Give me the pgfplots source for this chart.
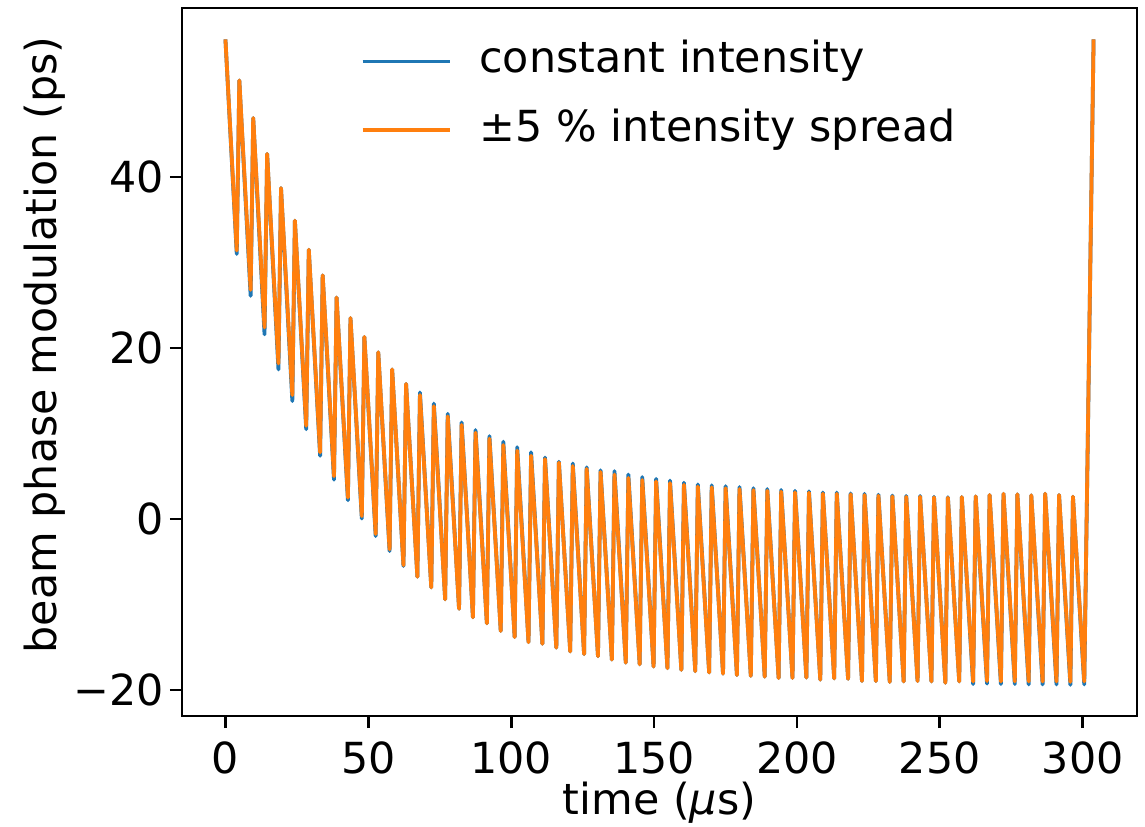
\documentclass[border=0pt]{standalone}
\usepackage{fontspec}
\setmainfont{DejaVu Sans}
\usepackage{pgfplots}
\pgfplotsset{compat=1.18}
\definecolor{mplblue}{HTML}{1F77B4}
\definecolor{mplorange}{HTML}{FF7F0E}
\begin{document}
\begin{tikzpicture}
\begin{axis}[
  at={(0,0)}, anchor=south west,
  scale only axis, width=238.75pt, height=177pt,
  xmin=-15.2, xmax=319.0, ymin=-23.04, ymax=59.77,
  axis line style={line width=0.7pt},
  tick style={line width=0.7pt, black},
  tick align=outside, major tick length=3pt,
  xtick pos=left, ytick pos=left,
  xtick={0,50,100,150,200,250,300},
  xticklabels={0,50,100,150,200,250,300},
  ytick={-20,0,20,40},
  yticklabels={−20,0,20,40},
  yticklabel style={xshift=2pt},
  tick label style={font=\fontsize{10.7}{12.5}\selectfont},
  label style={font=\fontsize{10.7}{12.5}\selectfont},
  xlabel={time ({\itshape μ}s)},
  ylabel={beam phase modulation (ps)},
  xlabel style={at={(axis description cs:0.5,0)}, anchor=center, yshift=-21.75pt},
  ylabel style={at={(axis description cs:-0.1435,0.524)}, anchor=center},
  legend image code/.code={\draw[#1, line width=0.9pt] (0pt,0pt) -- (21.75pt,0pt);},
  legend cell align=left,
  legend style={draw=none, fill=none, at={(axis description cs:0.1864,0.955)}, anchor=north west,
    font=\fontsize{10.7}{12.5}\selectfont, inner sep=0pt, row sep=6.6pt,
    nodes={inner xsep=0pt, inner ysep=0pt, text height=8pt, text depth=2.5pt},
    /tikz/every odd column/.append style={column sep=7pt}},
]
\addplot[mplblue, line width=0.95pt, line join=round] coordinates {
(0,56.1) (3.96,31.0)
(4.86,51.3) (8.82,26.1)
(9.72,46.9) (13.68,21.6)
(14.59,42.7) (18.55,17.5)
(19.45,38.7) (23.41,13.8)
(24.31,34.9) (28.27,10.5)
(29.17,31.5) (33.13,7.4)
(34.03,28.5) (37.99,4.6)
(38.90,25.9) (42.86,2.2)
(43.76,23.5) (47.72,0.05)
(48.62,21.3) (52.58,-2.0)
(53.48,19.5) (57.44,-3.75)
(58.34,17.5) (62.30,-5.5)
(63.21,15.8) (67.17,-6.75)
(68.07,14.8) (72.03,-8.0)
(72.93,13.5) (76.89,-9.4)
(77.79,12.3) (81.75,-10.5)
(82.65,11.3) (86.61,-11.5)
(87.52,10.4) (91.48,-12.2)
(92.38,9.7) (96.34,-13.1)
(97.24,9.05) (101.20,-13.8)
(102.10,8.4) (106.06,-14.4)
(106.96,7.8) (110.92,-14.6)
(111.83,7.2) (115.79,-15.05)
(116.69,6.7) (120.65,-15.5)
(121.55,6.5) (125.51,-15.8)
(126.41,6.05) (130.37,-16.05)
(131.27,5.7) (135.23,-16.45)
(136.14,5.6) (140.10,-16.8)
(141.00,5.2) (144.96,-17.0)
(145.86,4.9) (149.82,-17.25)
(150.72,4.7) (154.68,-17.45)
(155.58,4.5) (159.54,-17.65)
(160.45,4.25) (164.41,-17.8)
(165.31,4.05) (169.27,-17.95)
(170.17,3.95) (174.13,-18.1)
(175.03,3.85) (178.99,-18.25)
(179.89,3.75) (183.85,-18.35)
(184.76,3.6) (188.72,-18.45)
(189.62,3.5) (193.58,-18.6)
(194.48,3.4) (198.44,-18.6)
(199.34,3.3) (203.30,-18.55)
(204.20,3.25) (208.16,-18.8)
(209.07,3.1) (213.03,-18.65)
(213.93,3.1) (217.89,-18.7)
(218.79,3.0) (222.75,-18.95)
(223.65,2.95) (227.61,-18.95)
(228.51,2.85) (232.47,-19.05)
(233.38,2.75) (237.34,-19.0)
(238.24,2.7) (242.20,-18.95)
(243.10,2.7) (247.06,-19.0)
(247.96,2.6) (251.92,-19.15)
(252.82,2.55) (256.78,-19.0)
(257.69,2.57) (261.65,-19.3)
(262.55,2.65) (266.51,-19.25)
(267.41,2.81) (271.37,-19.3)
(272.27,2.96) (276.23,-19.3)
(277.13,2.89) (281.09,-19.35)
(282.00,2.77) (285.96,-19.35)
(286.86,2.96) (290.82,-19.35)
(291.72,2.81) (295.68,-19.4)
(296.58,2.61) (300.54,-19.35)
(303.8,56.1)
};
\addlegendentry{constant intensity}
\addplot[mplorange, line width=0.95pt, line join=round] coordinates {
(0,56.1) (3.96,31.4)
(4.86,51.3) (8.82,26.8)
(9.72,46.9) (13.68,22.4)
(14.59,42.7) (18.55,18.2)
(19.45,38.7) (23.41,14.5)
(24.31,34.9) (28.27,10.9)
(29.17,31.5) (33.13,7.8)
(34.03,28.5) (37.99,5.0)
(38.90,25.9) (42.86,2.5)
(43.76,23.5) (47.72,0.35)
(48.62,21.3) (52.58,-1.75)
(53.48,19.5) (57.44,-3.55)
(58.34,17.5) (62.30,-5.4)
(63.21,15.8) (67.17,-6.75)
(68.07,14.5) (72.03,-8.0)
(72.93,13.2) (76.89,-9.4)
(77.79,12.0) (81.75,-10.5)
(82.65,11.0) (86.61,-11.5)
(87.52,10.1) (91.48,-12.2)
(92.38,9.4) (96.34,-13.1)
(97.24,8.65) (101.20,-13.8)
(102.10,8.0) (106.06,-14.4)
(106.96,7.4) (110.92,-14.6)
(111.83,7.0) (115.79,-15.05)
(116.69,6.6) (120.65,-15.5)
(121.55,6.2) (125.51,-15.8)
(126.41,5.85) (130.37,-16.05)
(131.27,5.5) (135.23,-16.45)
(136.14,5.2) (140.10,-16.8)
(141.00,4.8) (144.96,-17.0)
(145.86,4.56) (149.82,-17.25)
(150.72,4.4) (154.68,-17.45)
(155.58,4.2) (159.54,-17.65)
(160.45,4.0) (164.41,-17.8)
(165.31,3.8) (169.27,-17.95)
(170.17,3.7) (174.13,-18.1)
(175.03,3.6) (178.99,-18.25)
(179.89,3.5) (183.85,-18.35)
(184.76,3.39) (188.72,-18.45)
(189.62,3.31) (193.58,-18.6)
(194.48,3.20) (198.44,-18.6)
(199.34,3.12) (203.30,-18.55)
(204.20,3.08) (208.16,-18.8)
(209.07,2.96) (213.03,-18.65)
(213.93,2.96) (217.89,-18.7)
(218.79,2.89) (222.75,-18.95)
(223.65,2.81) (227.61,-18.95)
(228.51,2.73) (232.47,-19.05)
(233.38,2.65) (237.34,-19.0)
(238.24,2.61) (242.20,-18.95)
(243.10,2.61) (247.06,-19.0)
(247.96,2.53) (251.92,-19.15)
(252.82,2.49) (256.78,-19.0)
(257.69,2.57) (261.65,-19.0)
(262.55,2.65) (266.51,-18.95)
(267.41,2.81) (271.37,-19.0)
(272.27,2.96) (276.23,-19.0)
(277.13,2.89) (281.09,-19.0)
(282.00,2.77) (285.96,-19.0)
(286.86,2.96) (290.82,-19.0)
(291.72,2.81) (295.68,-19.05)
(296.58,2.61) (300.54,-19.0)
(303.8,56.1)
};
\addlegendentry{±5 \% intensity spread}
\end{axis}
\pgfresetboundingbox
\path[use as bounding box] (-45.5pt,-27.5pt) rectangle (240.75pt,179pt);
\end{tikzpicture}
\end{document}
